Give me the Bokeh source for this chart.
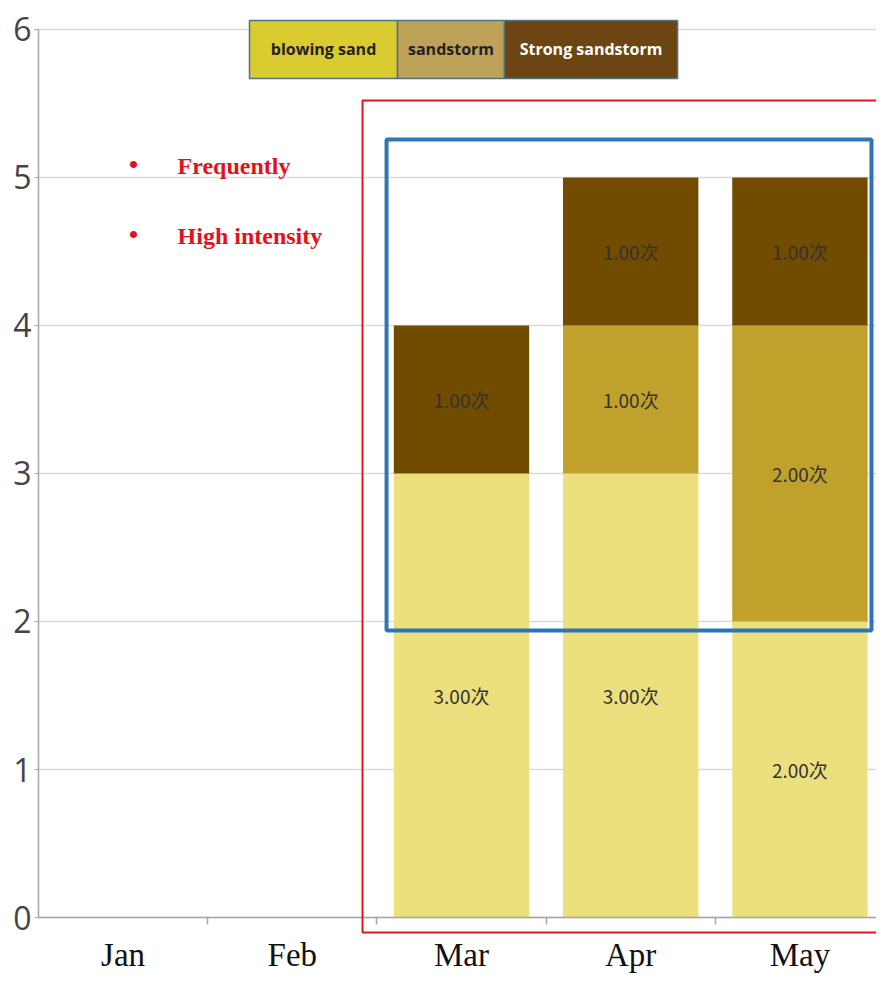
from bokeh.plotting import figure
from bokeh.models import FixedTicker, BoxAnnotation, Label, ColumnDataSource
from bokeh.core.properties import value
from bokeh.embed import file_html
from bokeh.resources import INLINE

# ---- data ----
months = ["Jan", "Feb", "Mar", "Apr", "May"]
blowing_sand = [0, 0, 3, 3, 2]
sandstorm = [0, 0, 0, 1, 2]
strong_sandstorm = [0, 0, 1, 1, 1]
series_names = ["blowing sand", "sandstorm", "Strong sandstorm"]
bar_colors = ["#ebe07d", "#c0a12b", "#704b00"]
legend_colors = ["#dacb30", "#bea258", "#6d4512"]
legend_text_colors = ["#222222", "#222222", "#ffffff"]
y_ticks = [0, 1, 2, 3, 4, 5, 6]
notes = ["Frequently", "High intensity"]

xpos = [i + 0.5 for i in range(len(months))]

p = figure(width=876, height=979, output_backend="svg", toolbar_location=None,
           x_range=(-0.2246, 4.9527), y_range=(-0.4189, 6.1959),
           min_border=0, min_border_left=0, min_border_right=0,
           min_border_top=0, min_border_bottom=0)
p.outline_line_color = None
p.background_fill_color = "white"
p.border_fill_color = "white"

# white cover left of the y axis so grid lines start at the axis
p.add_layout(BoxAnnotation(right=0, fill_color="white", fill_alpha=1, line_color=None,
                           level="underlay"))

src = ColumnDataSource(dict(x=xpos, blowing=blowing_sand, sand=sandstorm, strong=strong_sandstorm))
p.vbar_stack(["blowing", "sand", "strong"], x="x", width=0.8, source=src,
             color=bar_colors, line_color=None)

# segment labels
lx, ly, lt = [], [], []
for i in range(len(months)):
    base = 0
    for vals in (blowing_sand, sandstorm, strong_sandstorm):
        v = vals[i]
        if v > 0:
            lx.append(xpos[i]); ly.append(base + v / 2); lt.append(f"{v:.2f}次")
        base += v
p.text(x=lx, y=ly, text=lt, text_font=value("Noto Sans CJK SC"), text_font_size="19px",
       text_color="#333333", text_align="center", text_baseline="middle")

# axes
p.yaxis.fixed_location = 0
p.yaxis.bounds = (0, 6)
p.yaxis.ticker = FixedTicker(ticks=y_ticks)
p.yaxis.axis_line_color = "#a6a6a6"
p.yaxis.axis_line_width = 1.5
p.yaxis.major_tick_out = 4
p.yaxis.major_tick_in = 0
p.yaxis.major_tick_line_color = "#a6a6a6"
p.yaxis.minor_tick_line_color = None
p.yaxis.major_label_text_font = "Open Sans"
p.yaxis.major_label_text_font_size = "32px"
p.yaxis.major_label_text_color = "#444444"
p.yaxis.major_label_standoff = 3

p.xaxis.fixed_location = 0
p.xaxis.bounds = (0, 5)
p.xaxis.ticker = FixedTicker(ticks=xpos, minor_ticks=[1, 2, 3, 4])
p.xaxis.major_label_overrides = {xpos[i]: months[i] for i in range(len(months))}
p.xaxis.axis_line_color = "#a6a6a6"
p.xaxis.axis_line_width = 1.5
p.xaxis.major_tick_out = 0
p.xaxis.major_tick_in = 0
p.xaxis.minor_tick_out = 7
p.xaxis.minor_tick_in = 0
p.xaxis.minor_tick_line_color = "#a6a6a6"
p.xaxis.minor_tick_line_width = 1.5
p.xaxis.major_label_text_font = "Liberation Serif"
p.xaxis.major_label_text_font_size = "33px"
p.xaxis.major_label_text_color = "#111111"
p.xaxis.major_label_standoff = 12

p.xgrid.grid_line_color = None
p.ygrid.grid_line_color = "#d9d9d9"
p.ygrid.grid_line_width = 1.5

# highlight boxes
p.add_layout(BoxAnnotation(left=1.915, right=5.09, top=5.52, bottom=-0.101,
                           fill_alpha=0, line_color="#e0161e", line_alpha=1, line_width=2))
p.add_layout(BoxAnnotation(left=2.057, right=4.923, top=5.257, bottom=1.939,
                           fill_alpha=0, line_color="#2e75b6", line_alpha=1, line_width=4))

# custom legend
edges = [1.247, 2.122, 2.754, 3.777]
for i, name in enumerate(series_names):
    p.add_layout(BoxAnnotation(left=edges[i], right=edges[i + 1], top=6.061, bottom=5.669,
                               fill_color=legend_colors[i], fill_alpha=1,
                               line_color="#4f7384", line_alpha=1, line_width=1.5))
    p.add_layout(Label(x=(edges[i] + edges[i + 1]) / 2, y=5.865, text=name,
                       text_align="center", text_baseline="middle",
                       text_font="Open Sans", text_font_style="bold",
                       text_font_size="16px", text_color=legend_text_colors[i]))

# red notes
for j, note in enumerate(notes):
    yy = 5.081 - j * 0.473
    p.add_layout(Label(x=0.561, y=yy + 0.01, text="•", text_align="center", text_baseline="middle",
                       text_font="Liberation Serif", text_font_size="30px", text_color="#e3111b"))
    p.add_layout(Label(x=0.822, y=yy, text=note, text_align="left",
                       text_baseline="middle",
                       text_font="Liberation Serif", text_font_style="bold",
                       text_font_size="24px", text_color="#e3111b"))

open("out.html", "w").write(file_html(p, INLINE))
